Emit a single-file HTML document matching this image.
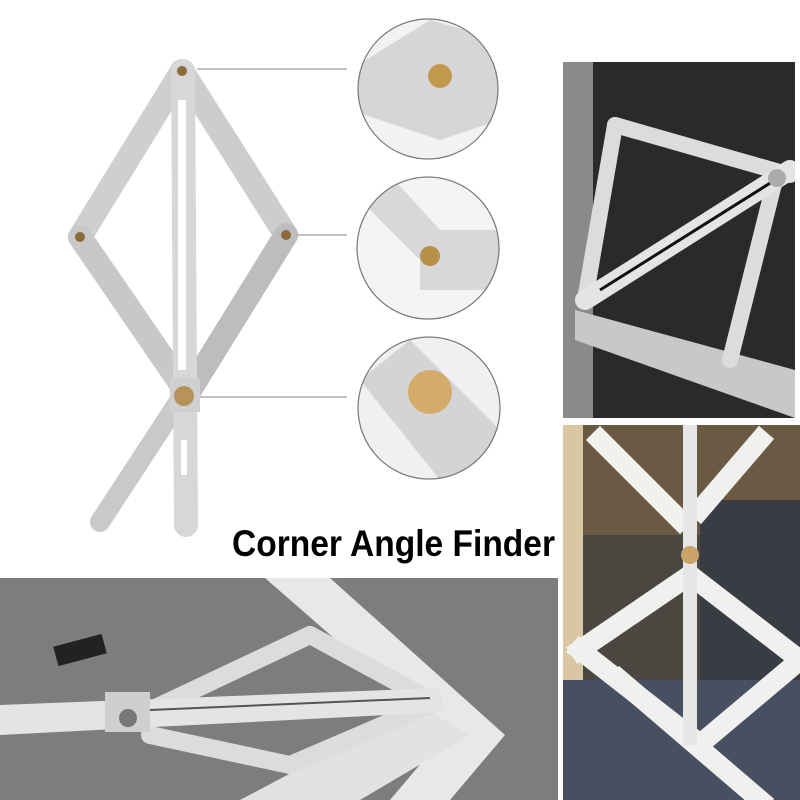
<!DOCTYPE html>
<html><head><style>
html,body{margin:0;padding:0;background:#fff;width:800px;height:800px;overflow:hidden}
</style></head><body>
<svg width="800" height="800" viewBox="0 0 800 800" xmlns="http://www.w3.org/2000/svg">
<defs>
<clipPath id="c1"><circle cx="428" cy="89" r="70"/></clipPath>
<clipPath id="c2"><circle cx="428" cy="248" r="71"/></clipPath>
<clipPath id="c3"><circle cx="429" cy="408" r="71"/></clipPath>
<clipPath id="p1"><rect x="563" y="62" width="232" height="356"/></clipPath>
<clipPath id="p2"><rect x="563" y="425" width="237" height="375"/></clipPath>
<clipPath id="p3"><rect x="0" y="578" width="558" height="222"/></clipPath>
</defs>
<rect width="800" height="800" fill="#fff"/>
<!-- main tool -->
<g stroke-linecap="round">
<line x1="183" y1="395" x2="100" y2="522" stroke="#c9c9cb" stroke-width="20"/>
<line x1="182" y1="71" x2="80" y2="237" stroke="#cfcfd1" stroke-width="24"/>
<line x1="182" y1="71" x2="286" y2="235" stroke="#cdcdcf" stroke-width="24"/>
<line x1="80" y1="237" x2="185" y2="390" stroke="#c8c8ca" stroke-width="24"/>
<line x1="286" y1="235" x2="190" y2="390" stroke="#bdbdc0" stroke-width="24"/>
<line x1="183" y1="71" x2="186" y2="525" stroke="#d7d7d9" stroke-width="24"/>
</g>
<rect x="178" y="100" width="8" height="270" fill="#fff"/>
<rect x="181" y="440" width="6" height="35" fill="#fff"/>
<rect x="170" y="378" width="30" height="34" fill="#d0d0d2"/>
<circle cx="184" cy="396" r="10" fill="#b8925a"/>
<circle cx="182" cy="71" r="5" fill="#8a6a3a"/>
<circle cx="80" cy="237" r="5" fill="#8a6a3a"/>
<circle cx="286" cy="235" r="5" fill="#8a6a3a"/>
<!-- connector lines -->
<g stroke="#888" stroke-width="1">
<line x1="197" y1="69" x2="347" y2="69"/>
<line x1="297" y1="235" x2="347" y2="235"/>
<line x1="200" y1="397" x2="347" y2="397"/>
</g>
<!-- circles -->
<g clip-path="url(#c1)"><rect x="350" y="15" width="160" height="150" fill="#f2f2f2"/>
<path d="M350 70 L430 20 L500 40 L500 120 L440 140 L350 110 Z" fill="#d6d6d8"/>
<circle cx="440" cy="76" r="12" fill="#c29a4e"/></g>
<circle cx="428" cy="89" r="70" fill="none" stroke="#777" stroke-width="1.2"/>
<g clip-path="url(#c2)"><rect x="350" y="170" width="160" height="160" fill="#f4f4f4"/>
<path d="M350 190 L420 260 L420 290 L500 290 L500 230 L440 230 L390 175 Z" fill="#d8d8da"/>
<circle cx="430" cy="256" r="10" fill="#b8904a"/></g>
<circle cx="428" cy="248" r="71" fill="none" stroke="#777" stroke-width="1.2"/>
<g clip-path="url(#c3)"><rect x="350" y="330" width="160" height="160" fill="#f0f0f0"/>
<path d="M360 380 L410 340 L500 430 L480 480 L440 480 Z" fill="#d4d4d6"/>
<circle cx="430" cy="392" r="22" fill="#d4ab6a"/></g>
<circle cx="429" cy="408" r="71" fill="none" stroke="#777" stroke-width="1.2"/>
<!-- right top photo -->
<g clip-path="url(#p1)">
<rect x="563" y="62" width="232" height="356" fill="#2a2a2a"/>
<rect x="563" y="62" width="30" height="356" fill="#8a8a8a"/>
<polygon points="575,310 795,370 795,418 575,340" fill="#c8c8c8"/>
<g stroke="#dcdcdc" stroke-width="16" stroke-linecap="round">
<line x1="615" y1="125" x2="790" y2="175"/>
<line x1="615" y1="125" x2="585" y2="300"/>
<line x1="775" y1="180" x2="730" y2="360"/>
</g>
<line x1="585" y1="300" x2="790" y2="170" stroke="#e4e4e4" stroke-width="20" stroke-linecap="round"/>
<line x1="600" y1="290" x2="775" y2="180" stroke="#111" stroke-width="3"/>
<circle cx="777" cy="178" r="9" fill="#aaa"/>
</g>
<!-- right bottom photo -->
<g clip-path="url(#p2)">
<rect x="563" y="425" width="237" height="375" fill="#4a4640"/>
<rect x="563" y="425" width="237" height="110" fill="#6a5a44"/>
<rect x="700" y="500" width="100" height="300" fill="#3a3c44"/>
<rect x="563" y="425" width="20" height="375" fill="#d9c7a4"/>
<rect x="563" y="680" width="237" height="120" fill="#475060"/>
<g stroke="#f0f0ee" stroke-width="20" stroke-linecap="square">
<line x1="690" y1="575" x2="580" y2="650"/>
<line x1="580" y1="650" x2="695" y2="740"/>
<line x1="690" y1="575" x2="800" y2="660"/>
<line x1="800" y1="660" x2="705" y2="740"/>
<line x1="620" y1="680" x2="760" y2="800"/>
<line x1="600" y1="440" x2="680" y2="520"/>
<line x1="760" y1="440" x2="700" y2="510"/>
</g>
<rect x="683" y="425" width="14" height="320" fill="#e6e6e6"/>
<circle cx="690" cy="555" r="9" fill="#c9a46a"/>
</g>
<!-- bottom left photo -->
<g clip-path="url(#p3)">
<rect x="0" y="578" width="558" height="222" fill="#7d7d7d"/>
<polygon points="265,578 330,578 505,735 450,800 390,800 445,735" fill="#e8e8e8"/>
<polygon points="240,800 420,705 470,735 360,800" fill="#e2e2e2"/>
<g stroke="#dcdcdc" stroke-width="18" stroke-linecap="round">
<line x1="310" y1="635" x2="130" y2="720"/>
<line x1="310" y1="635" x2="430" y2="700"/>
<line x1="150" y1="735" x2="290" y2="765"/>
<line x1="290" y1="765" x2="430" y2="705"/>
</g>
<polygon points="0,705 440,688 445,712 0,735" fill="#e4e4e4"/>
<line x1="150" y1="710" x2="430" y2="698" stroke="#555" stroke-width="2"/>
<rect x="105" y="692" width="45" height="40" fill="#cfcfcf"/>
<circle cx="128" cy="718" r="9" fill="#777"/>
<rect x="55" y="640" width="50" height="20" fill="#222" transform="rotate(-15 80 650)"/>
</g>
<text x="232" y="556" font-family="Liberation Sans, sans-serif" font-weight="bold" font-size="37" fill="#000" textLength="323" lengthAdjust="spacingAndGlyphs">Corner Angle Finder</text>
</svg>
</body></html>
